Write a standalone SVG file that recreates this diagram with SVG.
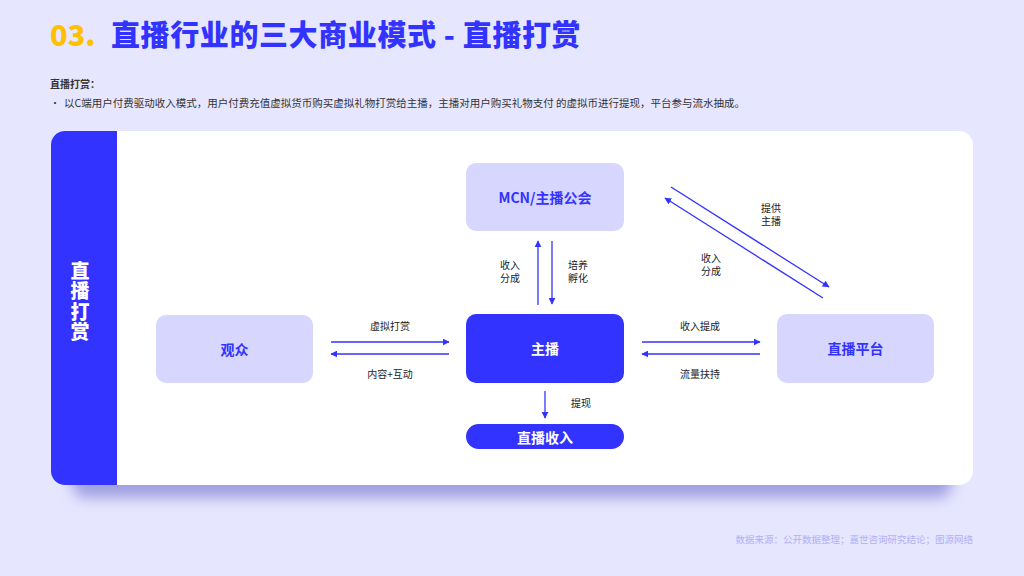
<svg xmlns="http://www.w3.org/2000/svg" width="1024" height="576" viewBox="0 0 1024 576">
<defs>
<filter id="sh" x="-10%" y="-20%" width="120%" height="140%"><feGaussianBlur stdDeviation="7"/></filter>
<marker id="ah" viewBox="0 0 10 10" refX="9" refY="5" markerWidth="7" markerHeight="7" markerUnits="userSpaceOnUse" orient="auto"><path d="M0,0 L10,5 L0,10 z" fill="#3333FF"/></marker>
<clipPath id="cardclip"><rect x="51" y="131" width="922" height="354" rx="14"/></clipPath>
</defs>
<style>
text{font-family:"Noto Sans CJK SC","Noto Sans",sans-serif;}
.lbl{font-size:10px;fill:#222;text-anchor:middle;}
.nt{font-size:14px;font-weight:700;text-anchor:middle;dominant-baseline:central;}
.lt{fill:#D6D6FF;}
.dk{fill:#3333FF;}
.conn line{stroke:#3333FF;stroke-width:1.3;marker-end:url(#ah);}
</style>
<rect width="1024" height="576" fill="#E6E6FF"/>
<text x="50" y="46" font-size="29" font-weight="900" fill="#FFC000">03.</text>
<text x="111" y="46" font-size="29" font-weight="900" fill="#3333FF" letter-spacing="0.6">直播行业的三大商业模式 - 直播打赏</text>
<text x="50" y="88" font-size="10" font-weight="700" fill="#333">直播打赏：</text>
<text x="50" y="107" font-size="10" fill="#333">•</text>
<text x="64" y="107" font-size="10.5" fill="#333">以C端用户付费驱动收入模式，用户付费充值虚拟货币购买虚拟礼物打赏给主播，主播对用户购买礼物支付 的虚拟币进行提现，平台参与流水抽成。</text>
<rect x="72" y="160" width="880" height="338" rx="14" fill="#A0A0E0" filter="url(#sh)"/>
<g clip-path="url(#cardclip)">
<rect x="51" y="131" width="922" height="354" fill="#FFFFFF"/>
<rect x="51" y="131" width="66" height="354" fill="#3333FF"/>
</g>
<g id="side">
<text x="80" y="261" font-size="19" font-weight="900" fill="#FFFFFF" writing-mode="vertical-rl" letter-spacing="1.5">直播打赏</text>
</g>
<g id="node-guanzhong"><rect class="lt" x="156" y="315" width="157" height="68" rx="10"/><text class="nt" x="234.5" y="349" fill="#3333FF">观众</text></g>
<g id="node-mcn"><rect class="lt" x="466" y="163" width="158" height="68" rx="10"/><text class="nt" x="545" y="197" fill="#3333FF">MCN/主播公会</text></g>
<g id="node-zhubo"><rect class="dk" x="466" y="314" width="158" height="69" rx="10"/><text class="nt" x="545" y="348" fill="#FFFFFF">主播</text></g>
<g id="node-pingtai"><rect class="lt" x="777" y="314" width="157" height="69" rx="10"/><text class="nt" x="855.5" y="348" fill="#3333FF">直播平台</text></g>
<g id="node-shouru"><rect class="dk" x="466" y="424" width="158" height="25" rx="12.5"/><text class="nt" x="545" y="436.5" fill="#FFFFFF">直播收入</text></g>
<g class="conn" id="connectors">
<line x1="331" y1="342" x2="449" y2="342"/>
<line x1="449" y1="354" x2="331" y2="354"/>
<line x1="642" y1="342" x2="760" y2="342"/>
<line x1="760" y1="354" x2="642" y2="354"/>
<line x1="538" y1="305" x2="538" y2="241"/>
<line x1="552" y1="241" x2="552" y2="304"/>
<line x1="545" y1="391" x2="545" y2="418"/>
<line x1="671" y1="187" x2="829" y2="287"/>
<line x1="823" y1="298" x2="665" y2="198"/>
</g>
<g id="labels">
<text class="lbl" x="390" y="330">虚拟打赏</text>
<text class="lbl" x="390" y="378">内容+互动</text>
<text class="lbl" x="700" y="330">收入提成</text>
<text class="lbl" x="700" y="378">流量扶持</text>
<text class="lbl" x="510" y="269">收入</text>
<text class="lbl" x="510" y="282">分成</text>
<text class="lbl" x="578" y="269">培养</text>
<text class="lbl" x="578" y="282">孵化</text>
<text class="lbl" x="581" y="407">提现</text>
<text class="lbl" x="771" y="212">提供</text>
<text class="lbl" x="771" y="225">主播</text>
<text class="lbl" x="711" y="262">收入</text>
<text class="lbl" x="711" y="275">分成</text>
</g>
<text x="973" y="543" font-size="9.5" fill="#B0B0F5" text-anchor="end">数据来源：公开数据整理；嘉世咨询研究结论；图源网络</text>
</svg>
